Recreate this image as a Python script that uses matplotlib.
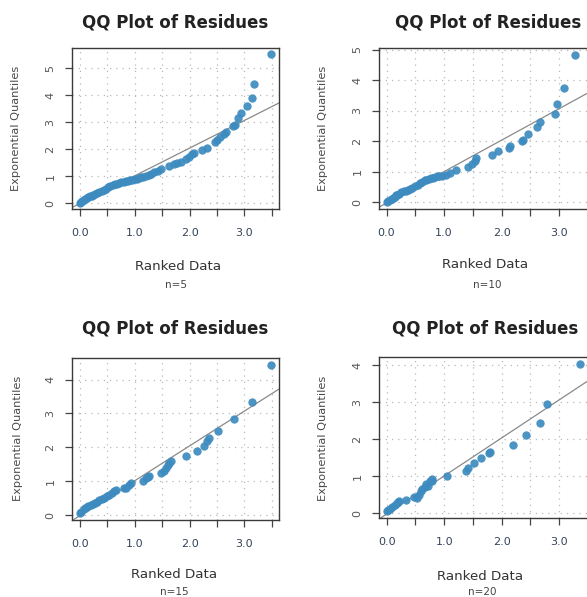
import numpy as np
import matplotlib
matplotlib.use("Agg")
import matplotlib.pyplot as plt

# ---------------- data ----------------
x1 = [0.00,0.02,0.04,0.07,0.10,0.13,0.16,0.19,0.22,0.25,0.28,0.32,0.36,0.40,0.44,0.48,0.52,0.56,0.60,0.64,
      0.68,0.72,0.76,0.80,0.84,0.88,0.92,0.96,1.00,1.04,1.08,1.12,1.16,1.21,1.26,1.30,1.36,1.42,1.48,1.63,
      1.72,1.78,1.84,1.93,1.99,2.05,2.09,2.23,2.32,2.47,2.50,2.56,2.62,2.67,2.80,2.83,2.89,2.94,3.04,3.13,3.18,3.49]
y1 = [0.02,0.04,0.09,0.12,0.15,0.18,0.21,0.25,0.28,0.31,0.33,0.37,0.41,0.46,0.50,0.54,0.58,0.62,0.66,0.70,
      0.72,0.75,0.77,0.79,0.81,0.83,0.85,0.87,0.89,0.91,0.93,0.95,0.98,1.01,1.04,1.07,1.14,1.20,1.26,1.38,
      1.44,1.47,1.54,1.63,1.72,1.81,1.86,1.96,2.06,2.25,2.33,2.46,2.56,2.65,2.86,2.90,3.15,3.35,3.62,3.91,4.43,5.52]

x2 = [0.00,0.03,0.06,0.09,0.11,0.14,0.17,0.19,0.22,0.26,0.30,0.33,0.37,0.41,0.45,0.50,0.54,0.58,0.62,0.66,
      0.69,0.73,0.77,0.81,0.85,0.89,0.92,0.97,1.03,1.11,1.20,1.42,1.48,1.54,1.56,1.84,1.93,2.12,2.14,2.36,
      2.37,2.46,2.62,2.66,2.93,2.97,3.09,3.27]
y2 = [0.00,0.04,0.08,0.12,0.15,0.19,0.23,0.26,0.29,0.33,0.37,0.39,0.41,0.43,0.48,0.53,0.58,0.64,0.68,0.72,
      0.75,0.77,0.79,0.81,0.83,0.85,0.86,0.88,0.90,0.97,1.05,1.15,1.26,1.35,1.46,1.55,1.68,1.79,1.84,2.00,
      2.06,2.24,2.46,2.64,2.88,3.23,3.75,4.84]

x3 = [0.00,0.03,0.07,0.10,0.13,0.16,0.20,0.24,0.28,0.32,0.36,0.40,0.44,0.49,0.53,0.58,0.62,0.67,0.81,0.85,
      0.90,0.94,1.15,1.21,1.25,1.27,1.49,1.54,1.58,1.60,1.63,1.66,1.94,2.14,2.27,2.32,2.35,2.52,2.81,3.14,3.49]
y3 = [0.05,0.10,0.17,0.21,0.24,0.27,0.30,0.33,0.37,0.40,0.43,0.47,0.51,0.56,0.60,0.66,0.70,0.74,0.79,0.81,
      0.90,0.94,1.01,1.08,1.11,1.16,1.24,1.31,1.40,1.47,1.53,1.60,1.75,1.90,2.05,2.19,2.26,2.49,2.84,3.35,4.44]

x4 = [0.00,0.02,0.06,0.10,0.14,0.17,0.19,0.22,0.33,0.48,0.53,0.56,0.59,0.62,0.66,0.68,0.72,0.76,0.78,0.79,
      1.05,1.37,1.41,1.51,1.64,1.78,1.79,2.19,2.42,2.66,2.78,3.36]
y4 = [0.05,0.09,0.12,0.16,0.22,0.27,0.30,0.32,0.36,0.43,0.41,0.50,0.59,0.66,0.72,0.79,0.74,0.86,0.92,0.88,
      1.01,1.13,1.22,1.37,1.50,1.63,1.67,1.86,2.12,2.43,2.95,4.05]

panel_n = ["n=5", "n=10", "n=15", "n=20"]
title = "QQ Plot of Residues"
xlabel = "Ranked Data"
ylabel = "Exponential Quantiles"
line_intercept = -0.02
line_slope = 1.03

# ---------------- layout ----------------
W, H = 587, 597
fig = plt.figure(figsize=(W / 100, H / 100), dpi=100)
fig.patch.set_facecolor("white")

def fx(px):
    return px / W

def fy(py):
    return 1 - py / H

# (left, right, top, bottom) in pixels
boxes = [(72, 279, 48, 209), (379, 588, 48, 209), (72, 279, 358, 520), (379, 588, 357, 518)]
title_pos = [(175, 22), (488, 22), (175, 328), (485, 328)]
xlab_pos = [(178, 266), (485, 265), (174, 574), (480, 577)]
n_pos = [(176, 285), (487, 285), (174, 592), (482, 592)]
ylab_pos = [(16, 128), (323, 128), (18, 438), (323, 438)]

data = [(x1, y1), (x2, y2), (x3, y3), (x4, y4)]
pt_color = "#3d8bbf"

for i, ((xs, ys), (l, r, t, b)) in enumerate(zip(data, boxes)):
    ax = fig.add_axes([fx(l), fy(b), (r - l) / W, (b - t) / H])
    xs = np.array(xs); ys = np.array(ys)
    xr = xs.max() - xs.min(); yr = ys.max() - ys.min()
    ax.set_xlim(xs.min() - 0.04 * xr, xs.max() + 0.04 * xr)
    ax.set_ylim(ys.min() - 0.04 * yr - 0.02, ys.max() + 0.04 * yr + 0.02)

    xt = np.arange(0, 3.51, 0.5)
    ax.set_xticks(xt)
    ax.set_xticklabels([f"{v:.1f}" if abs(v - round(v)) < 1e-9 else "" for v in xt])
    yt = np.arange(0, int(np.floor(ys.max() + 0.04 * yr)) + 1, 1)
    ax.set_yticks(yt)
    ax.set_yticklabels([str(int(v)) for v in yt])

    ax.grid(True, color="#b8b8b8", linestyle=(0, (1, 4)), linewidth=0.9)
    ax.set_axisbelow(True)

    ax.axline((0, line_intercept), slope=line_slope, color="#8a8a8a", lw=0.9, zorder=2)
    ax.plot(xs, ys, "o", ms=6, color=pt_color, mec="none", alpha=0.92, zorder=3)

    for s in ax.spines.values():
        s.set_color("#3a3a3a")
        s.set_linewidth(1.0)
    ax.tick_params(axis="x", length=5, width=0.9, color="#444444", pad=9,
                   labelsize=8, labelcolor="#34425a")
    ax.tick_params(axis="y", length=5, width=0.9, color="#444444", pad=7,
                   labelsize=8, labelcolor="#555555", labelrotation=90)
    for lab in ax.get_yticklabels():
        lab.set_verticalalignment("center")

    tx, ty = title_pos[i]
    fig.text(fx(tx), fy(ty), title, ha="center", va="center", fontsize=12,
             fontweight="bold", color="#222222")
    lx, ly = xlab_pos[i]
    fig.text(fx(lx), fy(ly), xlabel, ha="center", va="center", fontsize=9.6, color="#333333")
    nx, ny = n_pos[i]
    fig.text(fx(nx), fy(ny), panel_n[i], ha="center", va="center", fontsize=7.5, color="#444444")
    yx, yy = ylab_pos[i]
    fig.text(fx(yx), fy(yy), ylabel, ha="center", va="center", rotation=90,
             fontsize=8.2, color="#4a4a4a")

fig.savefig("out.png", dpi=100, facecolor="white")
